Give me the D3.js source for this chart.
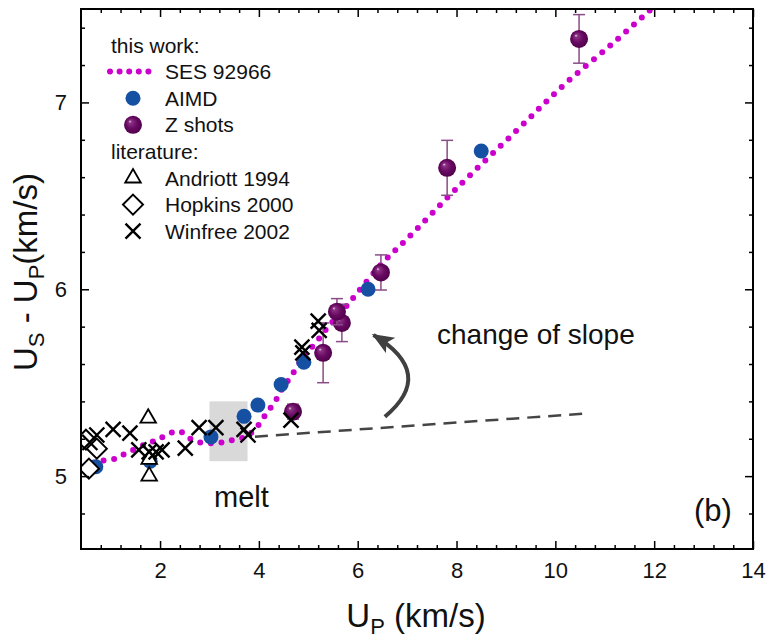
<!DOCTYPE html>
<html>
<head>
<meta charset="utf-8">
<script src="https://cdnjs.cloudflare.com/ajax/libs/d3/7.8.5/d3.min.js"></script>
<style>
  body { margin: 0; background: #fff; }
  svg { font-family: "Liberation Sans", Arial, sans-serif; }
  .tick text { font-size: 22px; fill: #111; }
</style>
</head>
<body>
<svg id="chart"></svg>
<script>
//Data
const sesCurve = [[0.45,5.05],[0.75,5.08],[1.05,5.09],[1.3,5.12],[1.7,5.17],[1.95,5.195],[2.2,5.23],[2.4,5.24],[2.55,5.21],
                  [2.8,5.18],[3.25,5.18],[3.5,5.195],[3.72,5.21],[3.88,5.24],[4.04,5.29],[4.17,5.345],[4.31,5.39],[4.43,5.45],
                  [4.69,5.55],[4.93,5.65],[5.14,5.71],[5.42,5.805],[5.74,5.90],[6.05,6.0],[6.5,6.14],[7.02,6.275],[8.0,6.54],
                  [9.23,6.853],[10.2,7.1],[11.17,7.318],[11.9,7.49],[12.2,7.56]];
const aimd = [[0.70,5.05],[1.80,5.08],[3.03,5.21],[3.70,5.32],[3.98,5.38],[4.45,5.49],[4.91,5.61],[6.21,6.00],[8.50,6.74]];
const zShots = [[4.69,5.345,0.04],[5.30,5.66,0.16],[5.68,5.82,0.10],[5.58,5.88,0.07],[6.47,6.09,0.094],[7.81,6.65,0.147],[10.48,7.34,0.13]];
const andriott = [[1.76,5.31],[1.78,5.09],[1.78,5.0]];
const hopkins = [[0.50,5.195],[0.72,5.147],[0.56,5.04]];
const winfree = [[0.58,5.18],[0.72,5.22],[1.05,5.25],[1.39,5.23],[1.57,5.14],[1.78,5.13],[1.92,5.13],[2.04,5.14],[2.51,5.15],
                 [2.79,5.26],[3.13,5.26],[3.70,5.25],[3.78,5.22],[4.65,5.30],[4.87,5.69],[4.89,5.66],[5.20,5.83],[5.22,5.78]];
const slopeLine = [[3.92,5.211],[10.56,5.334]];
const meltBox = [[3.0,5.08],[3.77,5.40]];
const arrowPath = [[6.55,5.318],[7.6,5.55],[6.32,5.755]];
const xTickLabels = [2,4,6,8,10,12,14];
const yTickLabels = [5,6,7];
const legendLabels = ["this work:","SES 92966","AIMD","Z shots","literature:","Andriott 1994","Hopkins 2000","Winfree 2002"];

//Chart Setup
const w = 767;
const h = 638;
const mLeft = 81, mRight = 753, mTop = 9, mBottom = 549;

const chart = d3.select("#chart")
                .attr("width", w)
                .attr("height", h);

const x = d3.scaleLinear().domain([0.4, 14]).range([mLeft, mRight]);
const y = d3.scaleLinear().domain([4.61, 7.5]).range([mBottom, mTop]);

const defs = chart.append("defs");
defs.append("clipPath")
    .attr("id", "plotClip")
    .append("rect")
    .attr("x", mLeft).attr("y", mTop)
    .attr("width", mRight - mLeft).attr("height", mBottom - mTop);

const grad = defs.append("radialGradient")
                 .attr("id", "sphere")
                 .attr("cx", "50%").attr("cy", "50%").attr("r", "55%")
                 .attr("fx", "32%").attr("fy", "30%");
grad.append("stop").attr("offset", "0%").attr("stop-color", "#f2dcee");
grad.append("stop").attr("offset", "15%").attr("stop-color", "#8c3184");
grad.append("stop").attr("offset", "55%").attr("stop-color", "#680a62");
grad.append("stop").attr("offset", "100%").attr("stop-color", "#4c0047");

defs.append("marker")
    .attr("id", "arrowHead")
    .attr("markerUnits", "userSpaceOnUse")
    .attr("markerWidth", 24).attr("markerHeight", 20)
    .attr("refX", 20).attr("refY", 9)
    .attr("orient", "auto")
    .append("path")
    .attr("d", "M0,0 L22,9 L0,18 L5,9 Z")
    .attr("fill", "#404040");

const plot = chart.append("g").attr("clip-path", "url(#plotClip)");

//Melt region and low-pressure trend
plot.append("rect")
    .attr("x", x(meltBox[0][0]))
    .attr("y", y(meltBox[1][1]))
    .attr("width", x(meltBox[1][0]) - x(meltBox[0][0]))
    .attr("height", y(meltBox[0][1]) - y(meltBox[1][1]))
    .attr("fill", "#d9d9d9");

plot.append("path")
    .datum(slopeLine)
    .attr("d", d3.line().x(d => x(d[0])).y(d => y(d[1])))
    .attr("fill", "none")
    .attr("stroke", "#454545")
    .attr("stroke-width", 2.5)
    .attr("stroke-dasharray", "13,8");

//SES curve
plot.append("path")
    .datum(sesCurve)
    .attr("d", d3.line().curve(d3.curveCatmullRom).x(d => x(d[0])).y(d => y(d[1])))
    .attr("fill", "none")
    .attr("stroke", "#cc00cc")
    .attr("stroke-width", 6)
    .attr("stroke-linecap", "round")
    .attr("stroke-dasharray", "0,10.6");

//AIMD
plot.selectAll(".aimd")
    .data(aimd)
    .enter()
    .append("circle")
    .attr("cx", d => x(d[0]))
    .attr("cy", d => y(d[1]))
    .attr("r", 7.5)
    .attr("fill", "#1550a2");

//Z shots with error bars
const zs = plot.selectAll(".zshot")
               .data(zShots)
               .enter()
               .append("g");
zs.append("line")
  .attr("x1", d => x(d[0])).attr("x2", d => x(d[0]))
  .attr("y1", d => y(d[1] + d[2])).attr("y2", d => y(d[1] - d[2]))
  .attr("stroke", "#8a4c86").attr("stroke-width", 1.5);
zs.selectAll(".cap")
  .data(d => [[d[0], d[1] + d[2]], [d[0], d[1] - d[2]]])
  .enter()
  .append("line")
  .attr("x1", d => x(d[0]) - 6).attr("x2", d => x(d[0]) + 6)
  .attr("y1", d => y(d[1])).attr("y2", d => y(d[1]))
  .attr("stroke", "#8a4c86").attr("stroke-width", 1.5);
zs.append("circle")
  .attr("cx", d => x(d[0]))
  .attr("cy", d => y(d[1]))
  .attr("r", 9)
  .attr("fill", "url(#sphere)");

//Literature symbols
const triangle = d3.symbol().type(d3.symbolTriangle).size(105);
const diamond = "M0,-10 L10,0 L0,10 L-10,0 Z";
const cross = "M-7.5,-7.5 L7.5,7.5 M-7.5,7.5 L7.5,-7.5";

plot.selectAll(".andriott")
    .data(andriott)
    .enter()
    .append("path")
    .attr("transform", d => `translate(${x(d[0])},${y(d[1])})`)
    .attr("d", triangle)
    .attr("fill", "#fff").attr("stroke", "#000").attr("stroke-width", 1.8);

plot.selectAll(".hopkins")
    .data(hopkins)
    .enter()
    .append("path")
    .attr("transform", d => `translate(${x(d[0])},${y(d[1])})`)
    .attr("d", diamond)
    .attr("fill", "#fff").attr("stroke", "#000").attr("stroke-width", 2);

plot.selectAll(".winfree")
    .data(winfree)
    .enter()
    .append("path")
    .attr("transform", d => `translate(${x(d[0])},${y(d[1])})`)
    .attr("d", cross)
    .attr("fill", "none").attr("stroke", "#000").attr("stroke-width", 2.4);

//Arrow annotation
chart.append("path")
     .attr("d", `M${x(arrowPath[0][0])},${y(arrowPath[0][1])} Q${x(arrowPath[1][0])},${y(arrowPath[1][1])} ${x(arrowPath[2][0])},${y(arrowPath[2][1])}`)
     .attr("fill", "none")
     .attr("stroke", "#404040")
     .attr("stroke-width", 4)
     .attr("marker-end", "url(#arrowHead)");

//Axes Setup
const xMinor = d3.range(0.8, 13.9, 0.4).filter(v => Math.abs(v / 2 - Math.round(v / 2)) > 0.01);
const yMinor = d3.range(4.8, 7.45, 0.2).filter(v => Math.abs(v - Math.round(v)) > 0.01);

function styleAxis(g){
  g.select(".domain").remove();
  g.selectAll(".tick line").attr("stroke", "#000").attr("stroke-width", 1.5);
}

chart.append("g").attr("transform", `translate(0,${mBottom})`)
     .call(d3.axisBottom(x).tickValues(xTickLabels).tickSizeInner(-8).tickSizeOuter(0).tickPadding(13).tickFormat(d3.format("d")))
     .call(styleAxis);
chart.append("g").attr("transform", `translate(0,${mBottom})`)
     .call(d3.axisBottom(x).tickValues(xMinor).tickSizeInner(-4).tickSizeOuter(0).tickFormat(""))
     .call(styleAxis);
chart.append("g").attr("transform", `translate(0,${mTop})`)
     .call(d3.axisTop(x).tickValues(xTickLabels).tickSizeInner(-8).tickSizeOuter(0).tickFormat(""))
     .call(styleAxis);
chart.append("g").attr("transform", `translate(0,${mTop})`)
     .call(d3.axisTop(x).tickValues(xMinor).tickSizeInner(-4).tickSizeOuter(0).tickFormat(""))
     .call(styleAxis);
chart.append("g").attr("transform", `translate(${mLeft},0)`)
     .call(d3.axisLeft(y).tickValues(yTickLabels).tickSizeInner(-8).tickSizeOuter(0).tickPadding(14).tickFormat(d3.format("d")))
     .call(styleAxis);
chart.append("g").attr("transform", `translate(${mLeft},0)`)
     .call(d3.axisLeft(y).tickValues(yMinor).tickSizeInner(-4).tickSizeOuter(0).tickFormat(""))
     .call(styleAxis);
chart.append("g").attr("transform", `translate(${mRight},0)`)
     .call(d3.axisRight(y).tickValues(yTickLabels).tickSizeInner(-8).tickSizeOuter(0).tickFormat(""))
     .call(styleAxis);
chart.append("g").attr("transform", `translate(${mRight},0)`)
     .call(d3.axisRight(y).tickValues(yMinor).tickSizeInner(-4).tickSizeOuter(0).tickFormat(""))
     .call(styleAxis);
chart.selectAll("g").attr("font-family", null).attr("font-size", null);

chart.append("rect")
     .attr("x", mLeft).attr("y", mTop)
     .attr("width", mRight - mLeft).attr("height", mBottom - mTop)
     .attr("fill", "none")
     .attr("stroke", "#000")
     .attr("stroke-width", 2);

//Labels Setup
const xTitle = chart.append("text")
                    .attr("x", 416).attr("y", 627)
                    .attr("text-anchor", "middle")
                    .attr("font-size", 33)
                    .attr("fill", "#111");
xTitle.append("tspan").text("U");
xTitle.append("tspan").attr("font-size", 22).attr("dy", 7).text("P");
xTitle.append("tspan").attr("dy", -7).text(" (km/s)");

const yTitle = chart.append("text")
                    .attr("transform", "translate(37,272) rotate(-90)")
                    .attr("text-anchor", "middle")
                    .attr("font-size", 33)
                    .attr("fill", "#111");
yTitle.append("tspan").text("U");
yTitle.append("tspan").attr("font-size", 22).attr("dy", 7).text("S");
yTitle.append("tspan").attr("dy", -7).text(" - U");
yTitle.append("tspan").attr("font-size", 22).attr("dy", 7).text("P");
yTitle.append("tspan").attr("dy", -7).text("(km/s)");

chart.append("text")
     .attr("x", 437).attr("y", 344)
     .attr("font-size", 28)
     .attr("fill", "#111")
     .text("change of slope");

chart.append("text")
     .attr("x", 214).attr("y", 507)
     .attr("font-size", 29)
     .attr("fill", "#111")
     .text("melt");

chart.append("text")
     .attr("x", 694).attr("y", 521)
     .attr("font-size", 31)
     .attr("fill", "#111")
     .text("(b)");

//Legend Setup
const legend = chart.append("g").attr("font-size", 21).attr("fill", "#111");
const rowY = i => 45 + i * 26.6;

legend.selectAll("text")
      .data(legendLabels)
      .enter()
      .append("text")
      .attr("x", (d, i) => (i === 0 || i === 4) ? 111 : 165)
      .attr("y", (d, i) => rowY(i) + 7.5)
      .text(d => d);

legend.append("line")
      .attr("x1", 110).attr("x2", 158)
      .attr("y1", rowY(1)).attr("y2", rowY(1))
      .attr("stroke", "#cc00cc").attr("stroke-width", 6)
      .attr("stroke-linecap", "round").attr("stroke-dasharray", "0,9.6");
legend.append("circle").attr("cx", 133).attr("cy", rowY(2)).attr("r", 7.5).attr("fill", "#1550a2");
legend.append("circle").attr("cx", 133).attr("cy", rowY(3)).attr("r", 9).attr("fill", "url(#sphere)");
legend.append("path").attr("transform", `translate(133,${rowY(5)})`).attr("d", triangle)
      .attr("fill", "#fff").attr("stroke", "#000").attr("stroke-width", 1.8);
legend.append("path").attr("transform", `translate(133,${rowY(6)})`).attr("d", diamond)
      .attr("fill", "#fff").attr("stroke", "#000").attr("stroke-width", 2);
legend.append("path").attr("transform", `translate(133,${rowY(7)})`).attr("d", cross)
      .attr("fill", "none").attr("stroke", "#000").attr("stroke-width", 2.4);
</script>
</body>
</html>
